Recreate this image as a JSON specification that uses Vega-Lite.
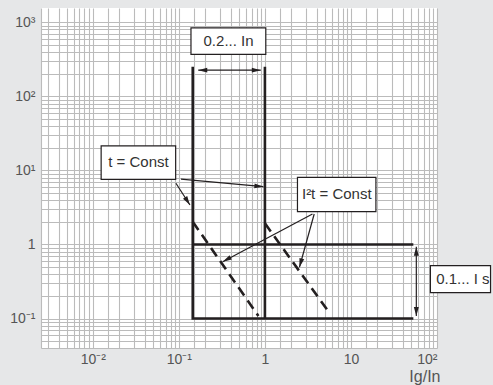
{
  "$schema": "https://vega.github.io/schema/vega-lite/v6.json",
  "autosize": "none",
  "width": 396,
  "height": 340,
  "padding": {"left": 41, "top": 8, "right": 56, "bottom": 37},
  "background": "#e6e7e8",
  "config": {
    "view": {"fill": "white", "stroke": null},
    "axis": {
      "domain": false, "ticks": false, "grid": true, "gridColor": "#bbbbbb", "gridWidth": 1.1,
      "labelFont": "Liberation Sans", "labelFontSize": 14, "labelColor": "#555555", "labelOverlap": false,
      "titleFont": "Liberation Sans", "titleFontWeight": "normal", "titleColor": "#555555"
    }
  },
  "datasets": {
    "frame": [
      {"seg": "a", "ord": 1, "x": 0.145, "y": 251},
      {"seg": "a", "ord": 2, "x": 0.145, "y": 0.1},
      {"seg": "a", "ord": 3, "x": 53.1, "y": 0.1},
      {"seg": "b", "ord": 1, "x": 1, "y": 251},
      {"seg": "b", "ord": 2, "x": 1, "y": 0.1},
      {"seg": "c", "ord": 1, "x": 0.145, "y": 1},
      {"seg": "c", "ord": 2, "x": 53.1, "y": 1}
    ],
    "dash": [
      {"seg": "l", "ord": 1, "x": 0.145, "y": 2.03},
      {"seg": "l", "ord": 2, "x": 0.84, "y": 0.1084},
      {"seg": "r", "ord": 1, "x": 1.0, "y": 1.93},
      {"seg": "r", "ord": 2, "x": 5.74, "y": 0.1153}
    ],
    "thin": [
      {"seg": "h", "ord": 1, "x": 0.168, "y": 226},
      {"seg": "h", "ord": 2, "x": 0.896, "y": 226},
      {"seg": "v", "ord": 1, "x": 57.5, "y": 0.934},
      {"seg": "v", "ord": 2, "x": 57.5, "y": 0.1084},
      {"seg": "a", "ord": 1, "x": 0.1058, "y": 7.65},
      {"seg": "a", "ord": 2, "x": 0.96, "y": 6.03},
      {"seg": "b", "ord": 1, "x": 0.0925, "y": 6.7},
      {"seg": "b", "ord": 2, "x": 0.1346, "y": 3.41},
      {"seg": "c", "ord": 1, "x": 3.57, "y": 2.58},
      {"seg": "c", "ord": 2, "x": 0.3235, "y": 0.586},
      {"seg": "d", "ord": 1, "x": 3.74, "y": 2.58},
      {"seg": "d", "ord": 2, "x": 2.52, "y": 0.492}
    ],
    "heads": [
      {"x": 0.168, "y": 226, "angle": 270},
      {"x": 0.896, "y": 226, "angle": 90},
      {"x": 57.5, "y": 0.934, "angle": 0},
      {"x": 57.5, "y": 0.1084, "angle": 180},
      {"x": 0.96, "y": 6.03, "angle": 95.3},
      {"x": 0.1346, "y": 3.41, "angle": 147.2},
      {"x": 0.3235, "y": 0.586, "angle": 242},
      {"x": 2.52, "y": 0.492, "angle": 195.4}
    ],
    "boxes": [
      {"x": 0.1383, "xe": 1.024, "y": 843, "ye": 369},
      {"x": 0.0125, "xe": 0.0918, "y": 21.5, "ye": 7.59},
      {"x": 2.39, "xe": 19.5, "y": 8.07, "ye": 2.77},
      {"x": 83.8, "xe": 419, "y": 0.518, "ye": 0.224}
    ],
    "labels": [
      {"x": 0.378, "y": 557, "text": "0.2... In"},
      {"x": 0.0339, "y": 12.8, "text": "t = Const"},
      {"x": 6.84, "y": 4.73, "text": "I²t = Const"},
      {"x": 200, "y": 0.342, "text": "0.1... I s"}
    ]
  },
  "encoding": {
    "x": {
      "field": "x", "type": "quantitative",
      "scale": {"type": "log", "domain": [0.0025, 100], "nice": false},
      "axis": {
        "values": [0.0025, 0.003, 0.004, 0.005, 0.006, 0.007, 0.008, 0.009,
                   0.01, 0.015, 0.02, 0.03, 0.04, 0.05, 0.06, 0.07, 0.08, 0.09,
                   0.1, 0.15, 0.2, 0.3, 0.4, 0.5, 0.6, 0.7, 0.8, 0.9,
                   1, 1.5, 2, 3, 4, 5, 6, 7, 8, 9,
                   10, 15, 20, 30, 40, 50, 60, 70, 80, 90, 100],
        "labelExpr": "datum.value == 0.01 ? '10⁻²' : datum.value == 0.1 ? '10⁻¹' : datum.value == 1 ? '1' : datum.value == 10 ? '10' : datum.value == 100 ? '10²' : ''",
        "labelPadding": 4,
        "title": "Ig/In", "titleFontSize": 16, "titleAlign": "right", "titleAnchor": null,
        "titleX": 399, "titleY": 33, "titleBaseline": "alphabetic"
      }
    },
    "y": {
      "field": "y", "type": "quantitative",
      "scale": {"type": "log", "domain": [0.04, 1560], "nice": false},
      "axis": {
        "values": [0.04, 0.05, 0.06, 0.07, 0.08, 0.09,
                   0.1, 0.2, 0.3, 0.4, 0.5, 0.6, 0.7, 0.8, 0.9,
                   1, 2, 3, 4, 5, 6, 7, 8, 9,
                   10, 20, 30, 40, 50, 60, 70, 80, 90,
                   100, 200, 300, 400, 500, 600, 700, 800, 900, 1000],
        "labelExpr": "datum.value == 0.1 ? '10⁻¹' : datum.value == 1 ? '1' : datum.value == 10 ? '10¹' : datum.value == 100 ? '10²' : datum.value == 1000 ? '10³' : ''",
        "labelPadding": 6,
        "title": null
      }
    }
  },
  "layer": [
    {
      "data": {"name": "frame"},
      "mark": {"type": "line", "color": "#231f20", "strokeWidth": 2.6, "strokeJoin": "miter", "strokeCap": "butt"},
      "encoding": {"detail": {"field": "seg"}, "order": {"field": "ord"}}
    },
    {
      "data": {"name": "dash"},
      "mark": {"type": "line", "color": "#231f20", "strokeWidth": 2.6, "strokeDash": [10, 6], "strokeCap": "butt"},
      "encoding": {"detail": {"field": "seg"}, "order": {"field": "ord"}}
    },
    {
      "data": {"name": "thin"},
      "mark": {"type": "line", "color": "#231f20", "strokeWidth": 1.2},
      "encoding": {"detail": {"field": "seg"}, "order": {"field": "ord"}}
    },
    {
      "data": {"name": "heads"},
      "mark": {"type": "point", "shape": "M0,0L-0.55,2L0.55,2Z", "filled": true, "color": "#231f20", "size": 81, "opacity": 1, "strokeWidth": 0},
      "encoding": {"angle": {"field": "angle", "type": "quantitative", "scale": null}}
    },
    {
      "data": {"name": "boxes"},
      "mark": {"type": "rect", "fill": "white", "stroke": "#231f20", "strokeWidth": 1.2},
      "encoding": {"x2": {"field": "xe"}, "y2": {"field": "ye"}}
    },
    {
      "data": {"name": "labels"},
      "mark": {"type": "text", "font": "Liberation Sans", "fontSize": 15, "color": "#333333", "align": "center", "baseline": "middle"},
      "encoding": {"text": {"field": "text"}}
    }
  ]
}
